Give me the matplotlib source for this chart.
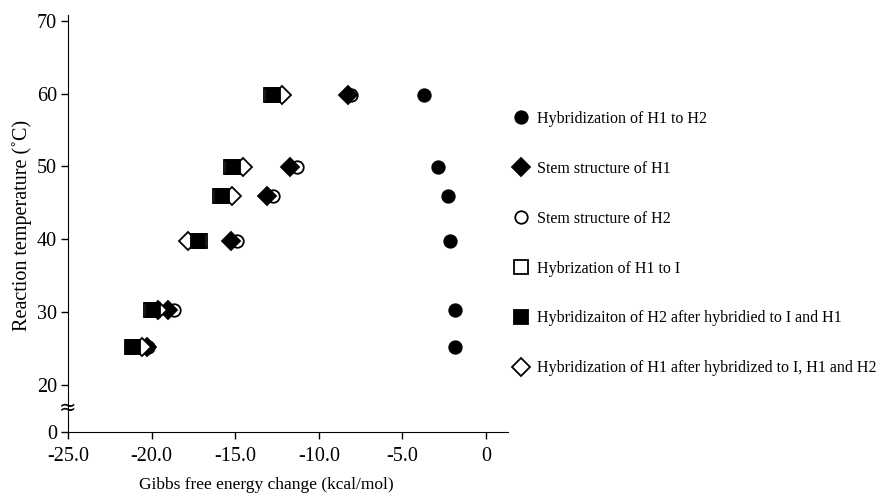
import matplotlib
matplotlib.use("Agg")
import matplotlib.pyplot as plt
from matplotlib.lines import Line2D

plt.rcParams['font.family'] = ['Liberation Serif', 'DejaVu Serif']

# Reaction temperatures (°C)
temps = [59.8, 49.9, 45.9, 39.7, 30.3, 25.2]

# Gibbs free energy change (kcal/mol) per series
h1_to_h2 = [-3.71, -2.85, -2.25, -2.15, -1.85, -1.85]
stem_h1 = [-8.25, -11.72, -13.10, -15.25, -19.02, -20.27]
stem_h2 = [-8.07, -11.30, -12.74, -14.90, -18.66, -20.20]
h1_to_i = [-12.85, -15.25, -15.90, -17.10, -20.05, -21.20]
h2_after = [-12.74, -15.13, -15.79, -17.22, -19.92, -21.10]
h1_after = [-12.20, -14.53, -15.19, -17.82, -19.62, -20.57]

labels = [
    "Hybridization of H1 to H2",
    "Stem structure of H1",
    "Stem structure of H2",
    "Hybrization of H1 to I",
    "Hybridizaiton of H2 after hybridied to I and H1",
    "Hybridization of H1 after hybridized to I, H1 and H2",
]

xticks = [-25.0, -20.0, -15.0, -10.0, -5.0, 0.0]
xticklabels = ["-25.0", "-20.0", "-15.0", "-10.0", "-5.0", "0"]
yticklabels = ["0", "20", "30", "40", "50", "60", "70"]

Y0 = 13.5  # display position of the broken-axis "0"

fig = plt.figure(figsize=(8.8, 4.95), dpi=100)
ax = fig.add_axes([68/880, 1-432/495, (508-68)/880, (432-15)/495])

styles = [
    dict(marker='o', ms=9, mfc='black', mec='black'),
    dict(marker='D', ms=9, mfc='black', mec='black'),
    dict(marker='o', ms=9, mfc='white', mec='black'),
    dict(marker='s', ms=9.5, mfc='white', mec='black'),
    dict(marker='s', ms=9.5, mfc='black', mec='black'),
    dict(marker='D', ms=9.5, mfc='white', mec='black'),
]
series = [h1_to_h2, stem_h1, stem_h2, h1_to_i, h2_after, h1_after]
order = [2, 1, 0, 5, 3, 4]
for i in order:
    st = styles[i]
    ax.plot(series[i], temps, linestyle='none', mew=1.3, zorder=3+order.index(i), **st)
handles = [Line2D([], [], linestyle='none', mew=1.3, **styles[i]) for i in range(6)]

ax.set_xlim(-25, 1.32)
ax.set_ylim(Y0, 70.8)
ax.set_xticks(xticks)
ax.set_xticklabels(xticklabels)
ax.set_yticks([Y0, 20, 30, 40, 50, 60, 70])
ax.set_yticklabels(yticklabels)
for s in ['top', 'right']:
    ax.spines[s].set_visible(False)
ax.tick_params(direction='out', length=5, width=1, labelsize=14.5, color='black')
ax.tick_params(axis='x', pad=6)
ax.tick_params(axis='y', pad=3)
ax.set_xlabel("Gibbs free energy change (kcal/mol)", fontsize=12.5)
ax.xaxis.set_label_coords((266-68)/440, -(485-432)/417, transform=ax.transAxes)
ax.xaxis.label.set_va('center')
ax.set_ylabel("Reaction temperature (˚C)", fontsize=14.5)
ax.yaxis.set_label_coords(-(68-22)/440, 0.5 + (417/2 - (432-222))/417)
ax.yaxis.label.set_va('center')

ax.text(0, 16.9, "≈", transform=ax.get_yaxis_transform(), ha='center', va='center',
        fontsize=15, family=['DejaVu Sans'])

fig.legend(handles, labels, loc='upper left', bbox_to_anchor=(513/880, 1-111/495),
           frameon=False, fontsize=11.5, labelspacing=2.12, handlelength=1.0,
           handletextpad=0.5, borderaxespad=0, borderpad=0)

fig.savefig("out.png", dpi=100)
